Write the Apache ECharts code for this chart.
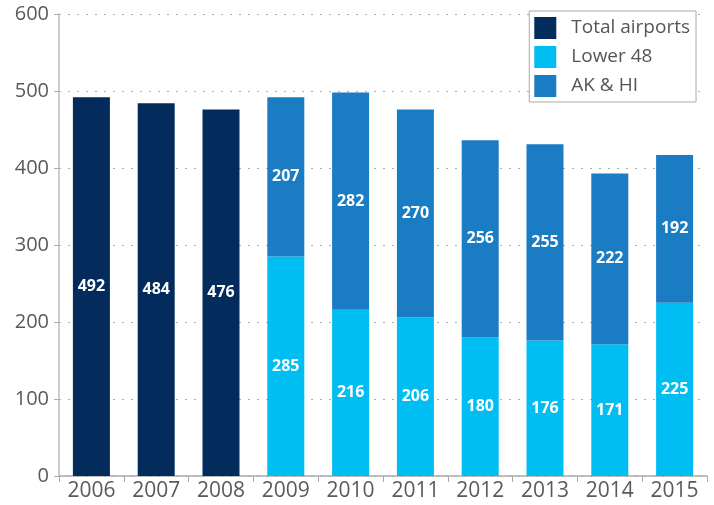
<!DOCTYPE html>
<html><head><meta charset="utf-8">
<script src="https://cdn.jsdelivr.net/npm/echarts@6/dist/echarts.min.js"></script>
<style>html,body{margin:0;padding:0;background:#fff}#c{width:714px;height:505px}</style>
</head><body><div id="c"></div>
<script>
const years = ['2006','2007','2008','2009','2010','2011','2012','2013','2014','2015'];
const totalAirports = [492, 484, 476, null, null, null, null, null, null, null];
const lower48 = [null, null, null, 285, 216, 206, 180, 176, 171, 225];
const akHi = [null, null, null, 207, 282, 270, 256, 255, 222, 192];
const yTicks = {min: 0, max: 600, interval: 100};

const font = '"Open Sans", "DejaVu Sans", sans-serif';
const lbl = {show: true, position: 'inside', color: '#fff', fontWeight: 'bold', fontSize: 16, fontFamily: font};
const chart = echarts.init(document.getElementById('c'));
chart.setOption({
  animation: false,
  grid: {left: 59, right: 7, top: 14, bottom: 29},
  legend: {
    right: 18, top: 11, orient: 'vertical', icon: 'rect',
    itemWidth: 22, itemHeight: 22, itemGap: 7,
    padding: [6, 6, 5, 5],
    backgroundColor: '#fff', borderColor: '#aaa', borderWidth: 1,
    textStyle: {fontSize: 19, color: '#555', fontFamily: font, padding: [0, 0, 0, 10]},
    data: ['Total airports', 'Lower 48', 'AK & HI']
  },
  xAxis: {
    type: 'category', data: years,
    axisLine: {lineStyle: {color: '#aaa', width: 1.5}},
    axisTick: {show: true, length: 6, lineStyle: {color: '#aaa'}},
    axisLabel: {fontSize: 21, color: '#5a5a5a', fontFamily: font, margin: 5}
  },
  yAxis: {
    type: 'value', min: yTicks.min, max: yTicks.max, interval: yTicks.interval,
    axisLine: {show: true, lineStyle: {color: '#bbb', width: 1.5}},
    axisTick: {show: true, length: 5, lineStyle: {color: '#aaa'}},
    axisLabel: {fontSize: 20, color: '#5a5a5a', fontFamily: font, margin: 10},
    splitLine: {lineStyle: {color: '#aaa', type: [2, 7], width: 1}}
  },
  series: [
    {name: 'Total airports', type: 'bar', stack: 's', barWidth: 37, data: totalAirports,
     itemStyle: {color: '#032b5b'}, label: lbl},
    {name: 'Lower 48', type: 'bar', stack: 's', barWidth: 37, data: lower48,
     itemStyle: {color: '#00bef2'}, label: lbl},
    {name: 'AK & HI', type: 'bar', stack: 's', barWidth: 37, data: akHi,
     itemStyle: {color: '#1a7cc3'}, label: lbl}
  ]
});
</script></body></html>
